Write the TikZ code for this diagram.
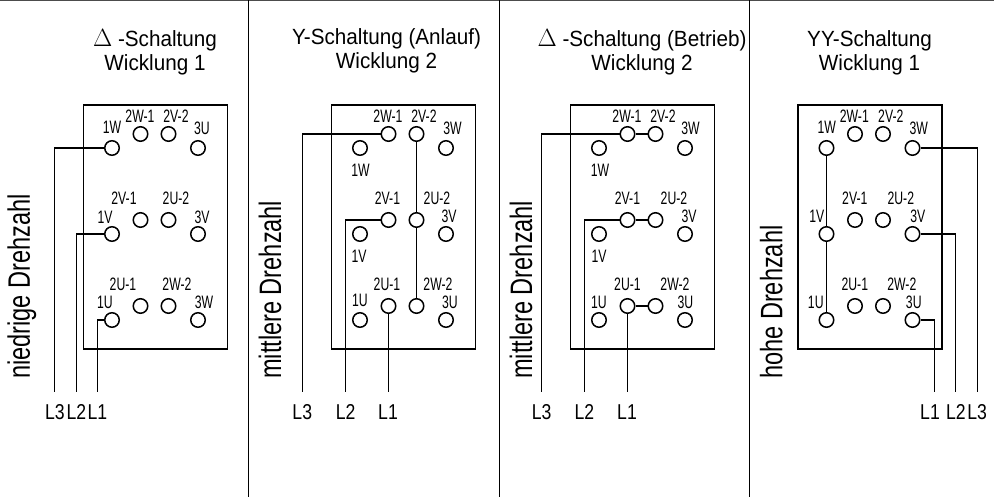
\documentclass[tikz,border=0pt]{standalone}
\usepackage{fontspec}
\newfontfamily\titelfont[FakeStretch=0.94]{Liberation Sans}
\newfontfamily\schmalfont[FakeStretch=0.68]{Liberation Sans}
\newfontfamily\drehfont[FakeStretch=0.76]{Liberation Sans}
\newfontfamily\phasefont[FakeStretch=0.82]{Liberation Sans}
\newcommand{\Dreieck}{{\fontsize{28}{24}\selectfont$\Delta$}}
\tikzset{
  klemme/.style={circle,draw,fill=white,line width=1.5pt,minimum size=14.5pt,inner sep=0pt},
  klemmtext/.style={inner sep=0pt,font=\schmalfont\fontsize{18}{18}\selectfont},
  phase/.style={inner sep=0pt,font=\phasefont\fontsize{21.5}{21.5}\selectfont},
  titel/.style={inner sep=0pt,align=center,font=\titelfont\fontsize{22}{24}\selectfont},
  drehzahl/.style={inner sep=0pt,rotate=90,anchor=base west,font=\drehfont\fontsize{31}{31}\selectfont},
  wire/.style={line width=1.5pt},
}
\newcommand{\Klemmbrett}[1]{
  \draw[wire] (83.5,105) rectangle (227.5,349);
  \foreach \n/\x/\y in {1W/112/148,2W-1/140.5/134,2V-2/168.5/134,3X/198/148,
    1V/112/234,2V-1/140.5/220,2U-2/168.5/220,3V/198/234,
    1U/112/320,2U-1/140.5/306,2W-2/168.5/306,3Z/198/320}{
    \node[klemme] (#1\n) at (\x,\y) {};
  }
}
\begin{document}
\begin{tikzpicture}[x=1pt,y=-1pt]
\useasboundingbox (0,0) rectangle (994,497);
\draw[line width=1.3pt,color=black!70] (0,0.5)--(994,0.5);
\foreach \i in {248.5,499.5,749.5}{
\draw[wire] (\i,0)--(\i,497);
}
% niedrige Drehzahl
\begin{scope}
\Klemmbrett{a}
\node[titel] (atitel) at (155,52.5) {\Dreieck\ -Schaltung\\Wicklung 1};
\node[drehzahl] (adreh) at (30,379) {niedrige Drehzahl};
\foreach \t/\x/\y in {1W/112/127,2W-1/140/116,2V-2/176/116,3U/202/128,
  2V-1/124/198,2U-2/176/198,1V/105/217,3V/202/217,
  2U-1/123/284,2W-2/177/284,1U/105/302,3W/204/302}{
  \node[klemmtext] (atext\t) at (\x,\y) {\t};
}
\coordinate (aL3) at (54.5,392); \node[phase] (atL3) at (55,412) {L3}; \draw[wire] (a1W)-|(aL3);
\coordinate (aL2) at (76.5,392); \node[phase] (atL2) at (76.5,412) {L2}; \draw[wire] (a1V)-|(aL2);
\coordinate (aL1) at (97.5,392); \node[phase] (atL1) at (97.5,412) {L1}; \draw[wire] (a1U)-|(aL1);
\end{scope}
% mittlere Drehzahl, Anlauf
\begin{scope}[xshift=248pt]
\Klemmbrett{b}
\node[titel] (btitel) at (138.5,50.5) {Y-Schaltung (Anlauf)\\Wicklung 2};
\node[drehzahl] (bdreh) at (33,379) {mittlere Drehzahl};
\foreach \t/\x/\y in {2W-1/140/116,2V-2/176/116,3W/204.5/128,1W/112.5/170,
  2V-1/139.5/198,2U-2/189/198,3V/201/216,1V/111/256,
  2U-1/139/284,2W-2/190/284,1U/112/300,3U/202/302}{
  \node[klemmtext] (btext\t) at (\x,\y) {\t};
}
\coordinate (bL3) at (54.5,392); \node[phase] (btL3) at (54.3,412) {L3}; \draw[wire] (b2W-1)-|(bL3);
\coordinate (bL2) at (97.5,392); \node[phase] (btL2) at (97.7,412) {L2}; \draw[wire] (b2V-1)-|(bL2);
\coordinate (bL1) at (140.5,392); \node[phase] (btL1) at (140,412) {L1}; \draw[wire] (b2U-1)--(bL1);
\draw[wire] (b2V-2)--(b2U-2);
\draw[wire] (b2U-2)--(b2W-2);
\end{scope}
% mittlere Drehzahl, Betrieb
\begin{scope}[xshift=487pt]
\Klemmbrett{c}
\node[titel] (ctitel) at (155,52.5) {\Dreieck\ -Schaltung (Betrieb)\\Wicklung 2};
\node[drehzahl] (cdreh) at (45,379) {mittlere Drehzahl};
\foreach \t/\x/\y in {2W-1/140/116,2V-2/176/116,3W/203.5/128,1W/113/170,
  2V-1/140.5/198,2U-2/187/198,3V/202/216,1V/112/256,
  2U-1/140.5/284,2W-2/188/284,1U/112/302,3U/198.5/302}{
  \node[klemmtext] (ctext\t) at (\x,\y) {\t};
}
\coordinate (cL3) at (54.5,392); \node[phase] (ctL3) at (54.7,412) {L3}; \draw[wire] (c2W-1)-|(cL3);
\coordinate (cL2) at (97.5,392); \node[phase] (ctL2) at (97.3,412) {L2}; \draw[wire] (c2V-1)-|(cL2);
\coordinate (cL1) at (140.5,392); \node[phase] (ctL1) at (140,412) {L1}; \draw[wire] (c2U-1)--(cL1);
\draw[wire] (c2W-1)--(c2V-2);
\draw[wire] (c2V-1)--(c2U-2);
\draw[wire] (c2U-1)--(c2W-2);
\end{scope}
% hohe Drehzahl
\begin{scope}[xshift=714.5pt]
\Klemmbrett{d}
\node[titel] (dtitel) at (155,52.5) {YY-Schaltung\\Wicklung 1};
\node[drehzahl] (ddreh) at (67.8,379) {hohe Drehzahl};
\foreach \t/\x/\y in {1W/112.3/127,2W-1/139.8/116,2V-2/176.3/116,3W/204.3/128,
  2V-1/140.3/198,2U-2/186.3/198,1V/102.3/216,3V/203.3/216,
  2U-1/140.3/284,2W-2/187.3/284,1U/101.3/302,3U/199.3/302}{
  \node[klemmtext] (dtext\t) at (\x,\y) {\t};
}
\coordinate (dL1) at (220,392); \node[phase] (dtL1) at (215.5,412) {L1}; \draw[wire] (d3Z)-|(dL1);
\coordinate (dL2) at (241,392); \node[phase] (dtL2) at (241.3,412) {L2}; \draw[wire] (d3V)-|(dL2);
\coordinate (dL3) at (263,392); \node[phase] (dtL3) at (262.6,412) {L3}; \draw[wire] (d3X)-|(dL3);
\draw[wire] (d1W)--(d1V);
\draw[wire] (d1V)--(d1U);
\end{scope}
\end{tikzpicture}
\end{document}
